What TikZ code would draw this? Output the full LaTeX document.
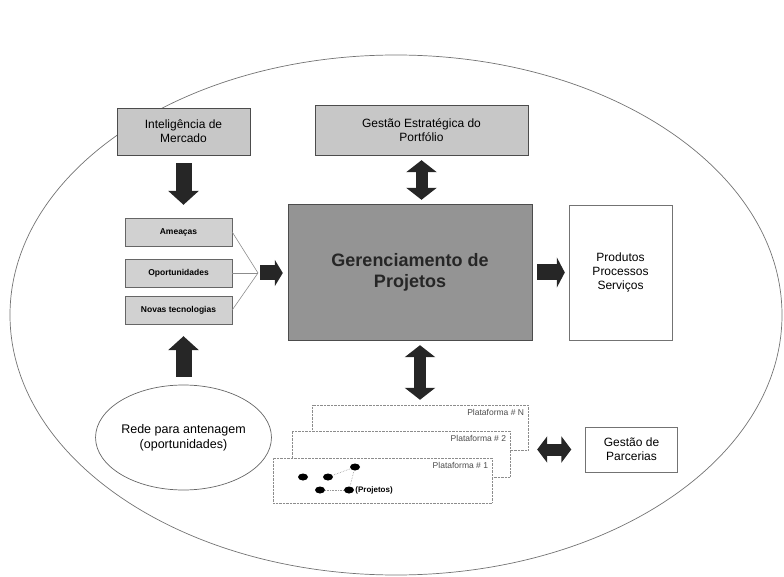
\documentclass[tikz,border=0pt]{standalone}
\usepackage{fontspec}
\setmainfont{Liberation Sans}
\usetikzlibrary{arrows.meta,shapes.geometric}

\begin{document}
\begin{tikzpicture}[
  x=1pt, y=-1pt,
  font=\fontsize{12}{14}\selectfont,
  gbox/.style={draw=black!70, fill=black!22, align=center, inner sep=2pt},
  sbox/.style={draw=black!60, fill=black!18, minimum width=107pt, minimum height=28pt, inner sep=1pt, font=\fontsize{8.5}{9}\selectfont\bfseries},
  wbox/.style={draw=black!55, fill=white, align=center},
  plat/.style={draw=black!45, densely dotted, fill=white, minimum height=45pt},
  ptxt/.style={font=\fontsize{8.5}{9}\selectfont, text=black!70, anchor=north east, inner sep=4pt},
  proj/.style={ellipse, fill=black, minimum width=10pt, minimum height=7pt, inner sep=0pt},
  fio/.style={draw=black!45, line width=0.6pt},
  elo/.style={draw=black!40, densely dotted, line width=0.6pt},
  fat/.style={-{Triangle[width=30pt,length=14pt]}, line width=16pt, black!85},
  fatboth/.style={{Triangle[width=30pt,length=12pt]}-{Triangle[width=30pt,length=12pt]}, line width=12pt, black!85}
]
\useasboundingbox (0,0) rectangle (784,577);
% organisation
\node[ellipse, draw=black!55, line width=0.7pt, minimum width=772pt, minimum height=520pt] (org) at (396,315) {};
% market side
\node[gbox, minimum width=133pt, minimum height=47pt] (intel) at (183.5,131.5) {Inteligência de\\Mercado};
\node[sbox] (ameacas) at (178.5,232) {Ameaças};
\node[sbox] (oport) at (178.5,273) {Oportunidades};
\node[sbox] (novas) at (178.5,310) {Novas tecnologias};
\coordinate (hub) at (258,273);
\node[ellipse, draw=black!60, line width=0.7pt, minimum width=157pt, minimum height=105pt, align=center, inner sep=0pt, font=\fontsize{12.5}{15}\selectfont] (rede) at (183.5,437.5) {Rede para antenagem\\(oportunidades)};
% core
\node[gbox, minimum width=213pt, minimum height=50pt] (port) at (421.5,130) {Gestão Estratégica do\\Portfólio};
\node[gbox, fill=black!42, text=black!85, minimum width=244pt, minimum height=136pt, font=\fontsize{18}{21}\selectfont\bfseries] (gerenc) at (410,272) {Gerenciamento de\\Projetos};
\node[wbox, minimum width=103pt, minimum height=135pt] (prod) at (620.5,272.5) {Produtos\\Processos\\Serviços};
% platforms
\node[plat, minimum width=216pt, label={[ptxt]north east:Plataforma \# N}] (platN) at (420,427.5) {};
\node[plat, minimum width=218pt, minimum height=46pt, label={[ptxt]north east:Plataforma \# 2}] (plat2) at (401,454) {};
\node[plat, minimum width=219pt, label={[ptxt]north east:Plataforma \# 1}] (plat1) at (382.5,480.5) {};
\node[proj] (p1) at (303,477) {};
\node[proj] (p2) at (328,477) {};
\node[proj] (p3) at (355,467) {};
\node[proj] (p4) at (320,490) {};
\node[proj] (p5) at (349,490) {};
\node[anchor=west, inner sep=1pt, font=\fontsize{8}{9}\selectfont\bfseries] (projl) at (p5.east) {(Projetos)};
\draw[elo] (p2) -- (p3);
\draw[elo] (p4) -- (p5);
\draw[elo] (p3) -- (p5);
\node[wbox, minimum width=92pt, minimum height=45pt] (parc) at (631.5,449.5) {Gestão de\\Parcerias};
% connectors
\draw[fio] (ameacas.east) -- (hub);
\draw[fio] (oport.east) -- (hub);
\draw[fio] (novas.east) -- (hub);
\draw[fat, shorten <=8pt, shorten >=13pt] (intel.south) -- (intel.south |- ameacas.north);
\draw[fat, shorten <=8pt, shorten >=12pt] (rede.north) -- (rede.north |- novas.south);
\draw[fat, -{Triangle[width=26pt,length=8pt]}, line width=15pt, shorten <=2pt, shorten >=5pt] (hub) -- (gerenc.west |- hub);
\draw[fat, -{Triangle[width=30pt,length=8pt]}, shorten <=5pt, shorten >=4pt] (gerenc.east |- prod.west) -- (prod.west);
\draw[fatboth, shorten <=5pt, shorten >=4pt] (port.south) -- (port.south |- gerenc.north);
\draw[fatboth, shorten <=5pt, shorten >=5pt] (platN.north |- gerenc.south) -- (platN.north);
\draw[fatboth, {Triangle[width=26pt,length=10pt]}-{Triangle[width=26pt,length=10pt]}, shorten <=9pt, shorten >=14pt] (parc.west -| platN.east) -- (parc.west);
\end{tikzpicture}
\end{document}
